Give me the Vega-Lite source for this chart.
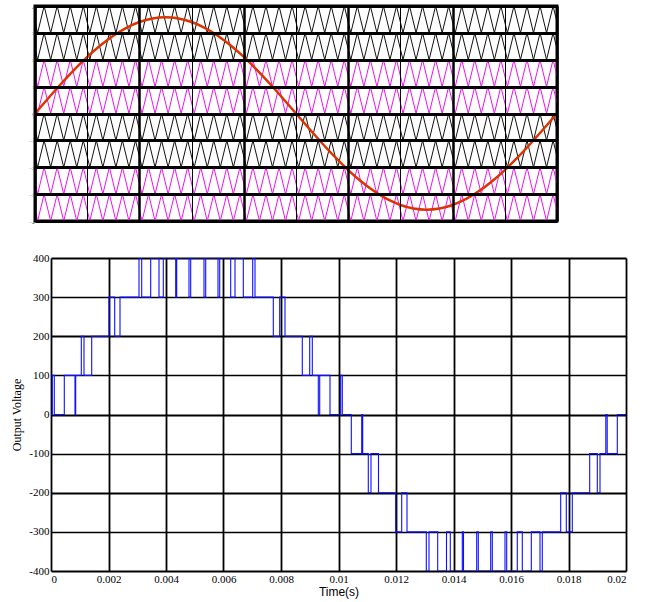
{
"$schema": "https://vega.github.io/schema/vega-lite/v6.json",
"padding": {"left": 10, "top": 2, "right": 5, "bottom": 4},
"background": "white",
"spacing": 26,
"datasets": {
"car": [
{"t":0,"b1":3.4,"b2":2.4,"b3":1.4,"b4":0.4,"b5":-0.6,"b6":-1.6,"b7":-2.6,"b8":-3.6},
{"t":0.0001,"b1":3,"b2":2,"b3":1,"b4":0,"b5":-1,"b6":-2,"b7":-3,"b8":-4},
{"t":0.00035,"b1":4,"b2":3,"b3":2,"b4":1,"b5":0,"b6":-1,"b7":-2,"b8":-3},
{"t":0.0006,"b1":3,"b2":2,"b3":1,"b4":0,"b5":-1,"b6":-2,"b7":-3,"b8":-4},
{"t":0.00085,"b1":4,"b2":3,"b3":2,"b4":1,"b5":0,"b6":-1,"b7":-2,"b8":-3},
{"t":0.0011,"b1":3,"b2":2,"b3":1,"b4":0,"b5":-1,"b6":-2,"b7":-3,"b8":-4},
{"t":0.00135,"b1":4,"b2":3,"b3":2,"b4":1,"b5":0,"b6":-1,"b7":-2,"b8":-3},
{"t":0.0016,"b1":3,"b2":2,"b3":1,"b4":0,"b5":-1,"b6":-2,"b7":-3,"b8":-4},
{"t":0.00185,"b1":4,"b2":3,"b3":2,"b4":1,"b5":0,"b6":-1,"b7":-2,"b8":-3},
{"t":0.0021,"b1":3,"b2":2,"b3":1,"b4":0,"b5":-1,"b6":-2,"b7":-3,"b8":-4},
{"t":0.00235,"b1":4,"b2":3,"b3":2,"b4":1,"b5":0,"b6":-1,"b7":-2,"b8":-3},
{"t":0.0026,"b1":3,"b2":2,"b3":1,"b4":0,"b5":-1,"b6":-2,"b7":-3,"b8":-4},
{"t":0.00285,"b1":4,"b2":3,"b3":2,"b4":1,"b5":0,"b6":-1,"b7":-2,"b8":-3},
{"t":0.0031,"b1":3,"b2":2,"b3":1,"b4":0,"b5":-1,"b6":-2,"b7":-3,"b8":-4},
{"t":0.00335,"b1":4,"b2":3,"b3":2,"b4":1,"b5":0,"b6":-1,"b7":-2,"b8":-3},
{"t":0.0036,"b1":3,"b2":2,"b3":1,"b4":0,"b5":-1,"b6":-2,"b7":-3,"b8":-4},
{"t":0.00385,"b1":4,"b2":3,"b3":2,"b4":1,"b5":0,"b6":-1,"b7":-2,"b8":-3},
{"t":0.0041,"b1":3,"b2":2,"b3":1,"b4":0,"b5":-1,"b6":-2,"b7":-3,"b8":-4},
{"t":0.00435,"b1":4,"b2":3,"b3":2,"b4":1,"b5":0,"b6":-1,"b7":-2,"b8":-3},
{"t":0.0046,"b1":3,"b2":2,"b3":1,"b4":0,"b5":-1,"b6":-2,"b7":-3,"b8":-4},
{"t":0.00485,"b1":4,"b2":3,"b3":2,"b4":1,"b5":0,"b6":-1,"b7":-2,"b8":-3},
{"t":0.0051,"b1":3,"b2":2,"b3":1,"b4":0,"b5":-1,"b6":-2,"b7":-3,"b8":-4},
{"t":0.00535,"b1":4,"b2":3,"b3":2,"b4":1,"b5":0,"b6":-1,"b7":-2,"b8":-3},
{"t":0.0056,"b1":3,"b2":2,"b3":1,"b4":0,"b5":-1,"b6":-2,"b7":-3,"b8":-4},
{"t":0.00585,"b1":4,"b2":3,"b3":2,"b4":1,"b5":0,"b6":-1,"b7":-2,"b8":-3},
{"t":0.0061,"b1":3,"b2":2,"b3":1,"b4":0,"b5":-1,"b6":-2,"b7":-3,"b8":-4},
{"t":0.00635,"b1":4,"b2":3,"b3":2,"b4":1,"b5":0,"b6":-1,"b7":-2,"b8":-3},
{"t":0.0066,"b1":3,"b2":2,"b3":1,"b4":0,"b5":-1,"b6":-2,"b7":-3,"b8":-4},
{"t":0.00685,"b1":4,"b2":3,"b3":2,"b4":1,"b5":0,"b6":-1,"b7":-2,"b8":-3},
{"t":0.0071,"b1":3,"b2":2,"b3":1,"b4":0,"b5":-1,"b6":-2,"b7":-3,"b8":-4},
{"t":0.00735,"b1":4,"b2":3,"b3":2,"b4":1,"b5":0,"b6":-1,"b7":-2,"b8":-3},
{"t":0.0076,"b1":3,"b2":2,"b3":1,"b4":0,"b5":-1,"b6":-2,"b7":-3,"b8":-4},
{"t":0.00785,"b1":4,"b2":3,"b3":2,"b4":1,"b5":0,"b6":-1,"b7":-2,"b8":-3},
{"t":0.0081,"b1":3,"b2":2,"b3":1,"b4":0,"b5":-1,"b6":-2,"b7":-3,"b8":-4},
{"t":0.00835,"b1":4,"b2":3,"b3":2,"b4":1,"b5":0,"b6":-1,"b7":-2,"b8":-3},
{"t":0.0086,"b1":3,"b2":2,"b3":1,"b4":0,"b5":-1,"b6":-2,"b7":-3,"b8":-4},
{"t":0.00885,"b1":4,"b2":3,"b3":2,"b4":1,"b5":0,"b6":-1,"b7":-2,"b8":-3},
{"t":0.0091,"b1":3,"b2":2,"b3":1,"b4":0,"b5":-1,"b6":-2,"b7":-3,"b8":-4},
{"t":0.00935,"b1":4,"b2":3,"b3":2,"b4":1,"b5":0,"b6":-1,"b7":-2,"b8":-3},
{"t":0.0096,"b1":3,"b2":2,"b3":1,"b4":0,"b5":-1,"b6":-2,"b7":-3,"b8":-4},
{"t":0.00985,"b1":4,"b2":3,"b3":2,"b4":1,"b5":0,"b6":-1,"b7":-2,"b8":-3},
{"t":0.0101,"b1":3,"b2":2,"b3":1,"b4":0,"b5":-1,"b6":-2,"b7":-3,"b8":-4},
{"t":0.01035,"b1":4,"b2":3,"b3":2,"b4":1,"b5":0,"b6":-1,"b7":-2,"b8":-3},
{"t":0.0106,"b1":3,"b2":2,"b3":1,"b4":0,"b5":-1,"b6":-2,"b7":-3,"b8":-4},
{"t":0.01085,"b1":4,"b2":3,"b3":2,"b4":1,"b5":0,"b6":-1,"b7":-2,"b8":-3},
{"t":0.0111,"b1":3,"b2":2,"b3":1,"b4":0,"b5":-1,"b6":-2,"b7":-3,"b8":-4},
{"t":0.01135,"b1":4,"b2":3,"b3":2,"b4":1,"b5":0,"b6":-1,"b7":-2,"b8":-3},
{"t":0.0116,"b1":3,"b2":2,"b3":1,"b4":0,"b5":-1,"b6":-2,"b7":-3,"b8":-4},
{"t":0.01185,"b1":4,"b2":3,"b3":2,"b4":1,"b5":0,"b6":-1,"b7":-2,"b8":-3},
{"t":0.0121,"b1":3,"b2":2,"b3":1,"b4":0,"b5":-1,"b6":-2,"b7":-3,"b8":-4},
{"t":0.01235,"b1":4,"b2":3,"b3":2,"b4":1,"b5":0,"b6":-1,"b7":-2,"b8":-3},
{"t":0.0126,"b1":3,"b2":2,"b3":1,"b4":0,"b5":-1,"b6":-2,"b7":-3,"b8":-4},
{"t":0.01285,"b1":4,"b2":3,"b3":2,"b4":1,"b5":0,"b6":-1,"b7":-2,"b8":-3},
{"t":0.0131,"b1":3,"b2":2,"b3":1,"b4":0,"b5":-1,"b6":-2,"b7":-3,"b8":-4},
{"t":0.01335,"b1":4,"b2":3,"b3":2,"b4":1,"b5":0,"b6":-1,"b7":-2,"b8":-3},
{"t":0.0136,"b1":3,"b2":2,"b3":1,"b4":0,"b5":-1,"b6":-2,"b7":-3,"b8":-4},
{"t":0.01385,"b1":4,"b2":3,"b3":2,"b4":1,"b5":0,"b6":-1,"b7":-2,"b8":-3},
{"t":0.0141,"b1":3,"b2":2,"b3":1,"b4":0,"b5":-1,"b6":-2,"b7":-3,"b8":-4},
{"t":0.01435,"b1":4,"b2":3,"b3":2,"b4":1,"b5":0,"b6":-1,"b7":-2,"b8":-3},
{"t":0.0146,"b1":3,"b2":2,"b3":1,"b4":0,"b5":-1,"b6":-2,"b7":-3,"b8":-4},
{"t":0.01485,"b1":4,"b2":3,"b3":2,"b4":1,"b5":0,"b6":-1,"b7":-2,"b8":-3},
{"t":0.0151,"b1":3,"b2":2,"b3":1,"b4":0,"b5":-1,"b6":-2,"b7":-3,"b8":-4},
{"t":0.01535,"b1":4,"b2":3,"b3":2,"b4":1,"b5":0,"b6":-1,"b7":-2,"b8":-3},
{"t":0.0156,"b1":3,"b2":2,"b3":1,"b4":0,"b5":-1,"b6":-2,"b7":-3,"b8":-4},
{"t":0.01585,"b1":4,"b2":3,"b3":2,"b4":1,"b5":0,"b6":-1,"b7":-2,"b8":-3},
{"t":0.0161,"b1":3,"b2":2,"b3":1,"b4":0,"b5":-1,"b6":-2,"b7":-3,"b8":-4},
{"t":0.01635,"b1":4,"b2":3,"b3":2,"b4":1,"b5":0,"b6":-1,"b7":-2,"b8":-3},
{"t":0.0166,"b1":3,"b2":2,"b3":1,"b4":0,"b5":-1,"b6":-2,"b7":-3,"b8":-4},
{"t":0.01685,"b1":4,"b2":3,"b3":2,"b4":1,"b5":0,"b6":-1,"b7":-2,"b8":-3},
{"t":0.0171,"b1":3,"b2":2,"b3":1,"b4":0,"b5":-1,"b6":-2,"b7":-3,"b8":-4},
{"t":0.01735,"b1":4,"b2":3,"b3":2,"b4":1,"b5":0,"b6":-1,"b7":-2,"b8":-3},
{"t":0.0176,"b1":3,"b2":2,"b3":1,"b4":0,"b5":-1,"b6":-2,"b7":-3,"b8":-4},
{"t":0.01785,"b1":4,"b2":3,"b3":2,"b4":1,"b5":0,"b6":-1,"b7":-2,"b8":-3},
{"t":0.0181,"b1":3,"b2":2,"b3":1,"b4":0,"b5":-1,"b6":-2,"b7":-3,"b8":-4},
{"t":0.01835,"b1":4,"b2":3,"b3":2,"b4":1,"b5":0,"b6":-1,"b7":-2,"b8":-3},
{"t":0.0186,"b1":3,"b2":2,"b3":1,"b4":0,"b5":-1,"b6":-2,"b7":-3,"b8":-4},
{"t":0.01885,"b1":4,"b2":3,"b3":2,"b4":1,"b5":0,"b6":-1,"b7":-2,"b8":-3},
{"t":0.0191,"b1":3,"b2":2,"b3":1,"b4":0,"b5":-1,"b6":-2,"b7":-3,"b8":-4},
{"t":0.01935,"b1":4,"b2":3,"b3":2,"b4":1,"b5":0,"b6":-1,"b7":-2,"b8":-3},
{"t":0.0196,"b1":3,"b2":2,"b3":1,"b4":0,"b5":-1,"b6":-2,"b7":-3,"b8":-4},
{"t":0.01985,"b1":4,"b2":3,"b3":2,"b4":1,"b5":0,"b6":-1,"b7":-2,"b8":-3},
{"t":0.02,"b1":3.4,"b2":2.4,"b3":1.4,"b4":0.4,"b5":-0.6,"b6":-1.6,"b7":-2.6,"b8":-3.6}
],
"sine": [
{"t":0,"y":0},{"t":0.0005,"y":0.56},{"t":0.001,"y":1.106},{"t":0.0015,"y":1.625},{"t":0.002,"y":2.104},{"t":0.0025,"y":2.531},{"t":0.003,"y":2.896},{"t":0.0035,"y":3.19},{"t":0.004,"y":3.405},{"t":0.0045,"y":3.536},{"t":0.005,"y":3.58},
{"t":0.0055,"y":3.536},{"t":0.006,"y":3.405},{"t":0.0065,"y":3.19},{"t":0.007,"y":2.896},{"t":0.0075,"y":2.531},{"t":0.008,"y":2.104},{"t":0.0085,"y":1.625},{"t":0.009,"y":1.106},{"t":0.0095,"y":0.56},{"t":0.01,"y":0},
{"t":0.0105,"y":-0.56},{"t":0.011,"y":-1.106},{"t":0.0115,"y":-1.625},{"t":0.012,"y":-2.104},{"t":0.0125,"y":-2.531},{"t":0.013,"y":-2.896},{"t":0.0135,"y":-3.19},{"t":0.014,"y":-3.405},{"t":0.0145,"y":-3.536},{"t":0.015,"y":-3.58},
{"t":0.0155,"y":-3.536},{"t":0.016,"y":-3.405},{"t":0.0165,"y":-3.19},{"t":0.017,"y":-2.896},{"t":0.0175,"y":-2.531},{"t":0.018,"y":-2.104},{"t":0.0185,"y":-1.625},{"t":0.019,"y":-1.106},{"t":0.0195,"y":-0.56},{"t":0.02,"y":0}
],
"vout": [
{"t":0,"v":0},{"t":0.0000452,"v":100},{"t":0.0001148,"v":0},{"t":0.0004626,"v":100},{"t":0.0008348,"v":0},{"t":0.0008591,"v":100},
{"t":0.0010539,"v":200},{"t":0.0011478,"v":100},{"t":0.0014157,"v":200},
{"t":0.0020174,"v":300},{"t":0.0022157,"v":200},{"t":0.0024,"v":300},
{"t":0.0030609,"v":400},{"t":0.0031548,"v":300},{"t":0.0034678,"v":400},{"t":0.0037565,"v":300},{"t":0.0039061,"v":400},{"t":0.0043374,"v":300},{"t":0.0043722,"v":400},{"t":0.0048,"v":300},{"t":0.0048591,"v":400},{"t":0.0053217,"v":300},{"t":0.0053809,"v":400},{"t":0.0058087,"v":300},{"t":0.0058678,"v":400},{"t":0.0062504,"v":300},{"t":0.0064,"v":400},{"t":0.0066887,"v":300},{"t":0.0070157,"v":400},{"t":0.0070957,"v":300},
{"t":0.0077322,"v":200},{"t":0.0079548,"v":300},{"t":0.0081391,"v":200},
{"t":0.0087409,"v":100},{"t":0.0089983,"v":200},{"t":0.0090887,"v":100},
{"t":0.0092974,"v":0},{"t":0.0093461,"v":100},{"t":0.0097043,"v":0},{"t":0.0100765,"v":100},{"t":0.0101322,"v":0},
{"t":0.0104452,"v":-100},{"t":0.010807,"v":0},{"t":0.0108417,"v":-100},
{"t":0.0110365,"v":-200},{"t":0.0111304,"v":-100},{"t":0.0113913,"v":-200},
{"t":0.0119896,"v":-300},{"t":0.0121983,"v":-200},{"t":0.0123826,"v":-300},
{"t":0.0130539,"v":-400},{"t":0.0131478,"v":-300},{"t":0.0134504,"v":-400},{"t":0.0137565,"v":-300},{"t":0.0138887,"v":-400},{"t":0.0143061,"v":-300},{"t":0.0143478,"v":-400},{"t":0.014807,"v":-300},{"t":0.0148626,"v":-400},{"t":0.0152939,"v":-300},{"t":0.0153496,"v":-400},{"t":0.0157913,"v":-300},{"t":0.0158504,"v":-400},{"t":0.0162191,"v":-300},{"t":0.016393,"v":-400},{"t":0.0167061,"v":-300},{"t":0.0170087,"v":-400},{"t":0.0170887,"v":-300},
{"t":0.0177287,"v":-200},{"t":0.0179235,"v":-300},{"t":0.0181322,"v":-200},
{"t":0.0187374,"v":-100},{"t":0.0190017,"v":-200},{"t":0.0190957,"v":-100},
{"t":0.0192974,"v":0},{"t":0.0193461,"v":-100},{"t":0.0196974,"v":0},{"t":0.02,"v":0}
]
},
"vconcat": [
{
"width": 522, "height": 215,
"view": {"stroke": "black", "strokeWidth": 3},
"encoding": {
"x": {"field": "t", "type": "quantitative", "scale": {"domain": [0, 0.02], "nice": false, "zero": false},
"axis": {"title": null, "labels": false, "ticks": false, "domain": false, "values": [0,0.002,0.004,0.006,0.008,0.01,0.012,0.014,0.016,0.018,0.02], "grid": true, "gridColor": "black", "gridOpacity": 1, "gridWidth": {"condition": {"test": "round(datum.value*1000) % 4 === 0", "value": 2.5}, "value": 1}, "zindex": 1}},
"y": {"field": "y", "type": "quantitative", "scale": {"domain": [-4, 4], "nice": false},
"axis": {"title": null, "values": [-4,-3,-2,-1,0,1,2,3,4], "grid": true, "gridColor": "black", "gridOpacity": 1, "gridWidth": 3, "ticks": false, "domain": false, "labelFontSize": 5, "labelColor": "#555555", "labelPadding": 1, "labelFont": "Liberation Serif", "labelOverlap": false, "zindex": 1}}
},
"layer": [
{
"data": {"name": "car"},
"transform": [{"fold": ["b1","b2","b3","b4","b5","b6","b7","b8"], "as": ["band","y"]}],
"mark": {"type": "line", "strokeWidth": 1, "clip": true},
"encoding": {
"color": {"field": "band", "type": "nominal", "scale": {"domain": ["b1","b2","b3","b4","b5","b6","b7","b8"], "range": ["#111111","#111111","#f010f0","#f010f0","#111111","#111111","#f010f0","#f010f0"]}, "legend": null}
}
},
{
"data": {"name": "sine"},
"mark": {"type": "line", "color": "#dd3300", "strokeWidth": 2.5, "interpolate": "monotone"}
}
]
},
{
"width": 591, "height": 313,
"view": {"stroke": null},
"data": {"name": "vout"},
"mark": {"type": "line", "interpolate": "step-after", "color": "#1010ff", "strokeWidth": 1.1, "clip": true},
"encoding": {
"x": {"field": "t", "type": "quantitative", "scale": {"domain": [0, 0.02], "range": [16, 591], "nice": false, "zero": false},
"axis": {"title": "Time(s)", "titleFont": "Liberation Sans", "titleFontSize": 12, "titleFontWeight": "normal", "titleColor": "black", "titlePadding": 2, "titleX": 303.5,
"values": [0,0.002,0.004,0.006,0.008,0.01,0.012,0.014,0.016,0.018,0.02], "labelExpr": "'' + datum.value",
"labelFont": "Liberation Serif", "labelFontSize": 11, "labelColor": "black", "labelPadding": 2, "ticks": false, "domain": false,
"grid": true, "gridColor": "black", "gridOpacity": 1, "gridWidth": 1.8}},
"y": {"field": "v", "type": "quantitative", "scale": {"domain": [-400, 400], "nice": false},
"axis": {"title": "Output Voltage", "titleFont": "Liberation Serif", "titleFontSize": 12, "titleFontWeight": "normal", "titleColor": "black", "titlePadding": 6, "offset": -16,
"values": [-400,-300,-200,-100,0,100,200,300,400], "labelExpr": "'' + datum.value",
"labelFont": "Liberation Serif", "labelFontSize": 11, "labelColor": "black", "labelPadding": 2, "ticks": false, "domain": false, "minExtent": 22, "maxExtent": 22,
"grid": true, "gridColor": "black", "gridOpacity": 1, "gridWidth": {"condition": {"test": "datum.value % 200 === 0", "value": 2}, "value": 1.5}}}
}
}
]
}
